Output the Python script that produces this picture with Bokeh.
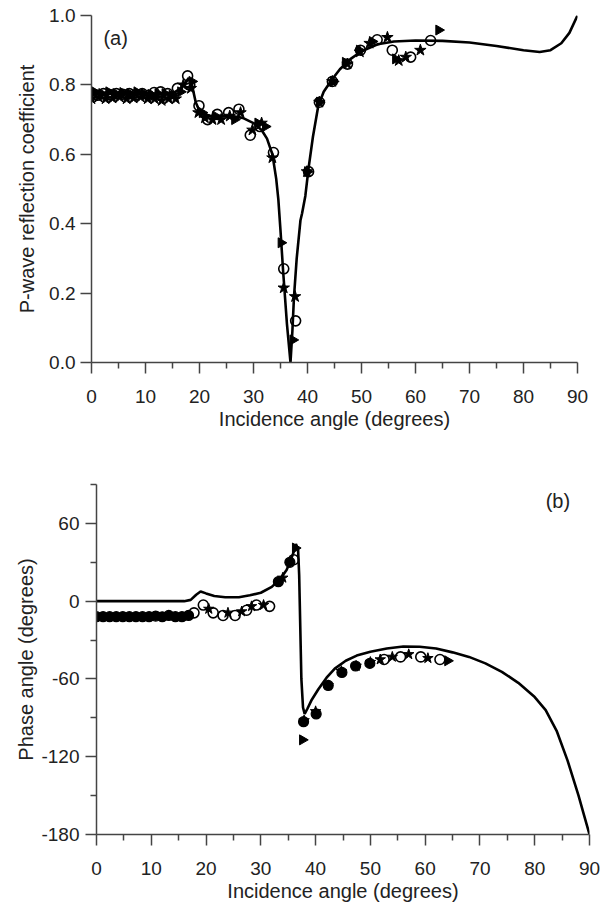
import math
from bokeh.plotting import figure
from bokeh.models import FixedTicker, Label, CustomJSTickFormatter
from bokeh.embed import file_html
from bokeh.resources import INLINE

FONT = "Liberation Sans"

# ---------------- panel (a) data ----------------
a_curve_x = [0, 5, 10, 14, 15.5, 16.5, 17.3, 18, 18.6, 19.3, 20, 21, 22, 24, 26, 28, 30, 31.5, 32.5,
             33.5, 34.2, 34.6, 35.0, 35.5, 36.2, 36.85, 37.2, 37.5, 38.0, 38.7, 39.0, 39.6, 40.2, 41,
             42, 43, 44.5, 46, 48, 50, 53, 56, 60, 65, 70, 75, 80, 83, 85, 87, 88.5, 90]
a_curve_y = [0.775, 0.775, 0.775, 0.775, 0.78, 0.79, 0.805, 0.82, 0.80, 0.75, 0.725, 0.715, 0.71, 0.71,
             0.71, 0.705, 0.69, 0.67, 0.645, 0.60, 0.53, 0.47, 0.38, 0.26, 0.11, 0.0, 0.09, 0.19, 0.30,
             0.41, 0.43, 0.48, 0.56, 0.65, 0.74, 0.78, 0.815, 0.845, 0.875, 0.897, 0.917, 0.925, 0.928,
             0.927, 0.922, 0.912, 0.900, 0.895, 0.90, 0.92, 0.95, 1.0]

a_circ_x = [0, 1.1, 2.2, 3.4, 4.6, 5.8, 7.0, 8.2, 9.4, 10.6, 11.6, 12.8, 14.1, 15.9, 17.8, 18.2, 19.9,
            21.5, 23.3, 25.4, 27.3, 29.4, 31.2, 33.7, 35.6, 37.8, 40.2, 42.2, 44.6, 47.4, 49.8, 52.9,
            55.7, 59.1, 62.8]
a_circ_y = [0.775, 0.77, 0.775, 0.772, 0.775, 0.773, 0.775, 0.772, 0.775, 0.77, 0.778, 0.78, 0.775,
            0.79, 0.826, 0.80, 0.74, 0.70, 0.715, 0.72, 0.73, 0.655, 0.68, 0.605, 0.27, 0.12, 0.55,
            0.75, 0.81, 0.86, 0.90, 0.93, 0.90, 0.88, 0.928]

a_star_x = [0, 1.3, 2.6, 3.9, 5.2, 6.5, 7.8, 9.1, 10.4, 11.7, 13.0, 14.3, 15.6, 17.0, 18.4, 19.8, 21.0,
            22.4, 24.0, 25.6, 27.6, 29.8, 31.5, 33.5, 35.6, 37.7, 39.9, 42.2, 44.6, 47.4, 49.7, 51.5,
            54.8, 56.9, 58.2, 60.9]
a_star_y = [0.76, 0.765, 0.76, 0.762, 0.765, 0.76, 0.762, 0.765, 0.76, 0.76, 0.755, 0.76, 0.76, 0.80,
            0.79, 0.72, 0.705, 0.70, 0.70, 0.71, 0.72, 0.67, 0.69, 0.59, 0.215, 0.19, 0.55, 0.75, 0.81,
            0.86, 0.895, 0.92, 0.937, 0.87, 0.88, 0.90]

a_tri_x = [0.6, 1.9, 3.2, 4.5, 5.8, 7.1, 8.4, 9.7, 11.0, 12.3, 13.6, 14.9, 16.5, 18.6, 20.5, 23.0, 26.5,
           30.8, 32.2, 35.1, 37.3, 40.0, 42.2, 44.8, 47.0, 49.6, 52.0, 56.3, 64.3]
a_tri_y = [0.78, 0.775, 0.78, 0.775, 0.778, 0.775, 0.78, 0.775, 0.772, 0.775, 0.775, 0.77, 0.78, 0.81,
           0.72, 0.71, 0.70, 0.69, 0.68, 0.345, 0.065, 0.55, 0.75, 0.81, 0.865, 0.90, 0.925, 0.875, 0.958]

a_xticks = [0, 10, 20, 30, 40, 50, 60, 70, 80, 90]
a_xminor = [5, 15, 25, 35, 45, 55, 65, 75, 85]
a_yticks = [0.0, 0.2, 0.4, 0.6, 0.8, 1.0]

# ---------------- panel (b) data ----------------
b_curve_x = [0, 10, 16, 17.2, 18.2, 19.0, 20.0, 21.5, 23.5, 26, 28, 30, 32, 33.5, 34.7, 35.5, 36.0,
             36.4, 36.8, 37.0, 37.2, 37.4, 37.7, 38.0, 38.5, 39.3, 40.5, 42, 43.5, 45.5, 47.5, 50, 53,
             56, 59, 62, 65, 68, 71, 74, 77, 80, 82, 84, 86, 88, 89, 90]
b_curve_y = [0, 0, 0, 1, 5, 7.5, 6, 4, 3, 3, 4.5, 6.5, 11, 17, 24, 32, 38, 44, 40, 20, -20, -60, -82,
             -87, -83, -76, -68, -59, -52, -46, -42, -39, -36.5, -35, -35.2, -36.5, -39.5, -43, -48,
             -54.5, -63, -74, -84, -100, -123, -150, -165, -180]

b_fill_x = [0, 1.2, 2.4, 3.6, 4.8, 6.0, 7.2, 8.4, 9.6, 10.8, 12.0, 13.2, 14.4, 15.6, 16.8, 33.2, 35.3,
            37.8, 40.1, 42.3, 44.8, 47.3, 49.9]
b_fill_y = [-12, -12, -12, -12, -12, -12, -12, -12, -12, -11.5, -12, -11, -12, -12, -11, 15, 30,
            -93, -87, -65, -55, -50, -48]

b_circ_x = [17.8, 19.5, 21.3, 23.1, 25.3, 27.4, 29.2, 31.6, 36.0, 52.5, 55.5, 59.2, 62.7]
b_circ_y = [-9, -3, -9, -11, -11, -7, -3, -4, 32, -45, -43, -43, -45]

b_star_x = [20.5, 24.0, 26.5, 28.3, 30.5, 34.0, 37.9, 40.0, 42.3, 44.7, 47.4, 50.0, 51.8, 54.0, 57.0, 60.5]
b_star_y = [-6, -9, -8, -4, -3, 18, -92, -85, -65, -54, -50, -47, -45, -43, -41, -44]

b_tri_x = [36.3, 37.6, 64.1]
b_tri_y = [41, -107, -46]

b_xticks = [0, 10, 20, 30, 40, 50, 60, 70, 80, 90]
b_xminor = [5, 15, 25, 35, 45, 55, 65, 75, 85]
b_yticks = [-180, -120, -60, 0, 60]
b_yminor = [-150, -90, -30, 30, 90]

AX = "#444444"
TXT = "#222222"


def style(p, xt, xm, yt, ym, xlab, ylab, y_lab_so, y_title_so, x_lab_so, x_title_so):
    p.outline_line_color = None
    p.grid.grid_line_color = None
    p.background_fill_color = "white"
    p.border_fill_color = "white"
    p.xaxis.ticker = FixedTicker(ticks=xt, minor_ticks=xm)
    p.yaxis.ticker = FixedTicker(ticks=yt, minor_ticks=ym)
    for ax in (p.xaxis[0], p.yaxis[0]):
        ax.axis_line_color = AX
        ax.axis_line_width = 1.5
        ax.major_tick_line_color = AX
        ax.major_tick_line_width = 1.5
        ax.minor_tick_line_color = AX
        ax.minor_tick_line_width = 1.5
        ax.major_tick_in = 0
        ax.minor_tick_in = 0
        ax.major_tick_out = 11
        ax.minor_tick_out = 6
        ax.major_label_text_font = FONT
        ax.major_label_text_font_size = "19px"
        ax.major_label_text_color = TXT
        ax.axis_label_text_font = FONT
        ax.axis_label_text_font_size = "20px"
        ax.axis_label_text_font_style = "normal"
        ax.axis_label_text_color = TXT
    p.xaxis.axis_label = xlab
    p.yaxis.axis_label = ylab
    p.xaxis.major_label_standoff = x_lab_so
    p.xaxis.axis_label_standoff = x_title_so
    p.yaxis.major_label_standoff = y_lab_so
    p.yaxis.axis_label_standoff = y_title_so
    p.xaxis.formatter = CustomJSTickFormatter(code="return String(tick);")


# ---------------- figure (a) ----------------
pa = figure(width=600, height=468, x_range=(0, 90), y_range=(0, 1.0),
            output_backend="svg", toolbar_location=None,
            min_border_left=91, min_border_right=23, min_border_top=15, min_border_bottom=106)
style(pa, a_xticks, a_xminor, a_yticks, [], "Incidence angle (degrees)",
      "P-wave reflection coefficient", 5, 8, 16, 2)
pa.yaxis.formatter = CustomJSTickFormatter(code="return tick.toFixed(1);")

pa.line(a_curve_x, a_curve_y, line_color="black", line_width=2.6)
pa.scatter(a_circ_x, a_circ_y, marker="circle", size=10, fill_color="white", fill_alpha=0.0,
           line_color="black", line_width=1.6)
pa.scatter(a_star_x, a_star_y, marker="star", size=12, fill_color="black", line_color="black",
           line_width=1)
pa.scatter(a_tri_x, a_tri_y, marker="triangle", size=10, angle=-math.pi / 2, fill_color="black",
           line_color="black", line_width=1)
pa.add_layout(Label(x=2.2, y=0.935, text="(a)", text_font=FONT, text_font_size="20px",
                    text_color=TXT, text_baseline="middle", text_align="left"))

# ---------------- figure (b) ----------------
pb = figure(width=600, height=437, x_range=(0, 90), y_range=(-180, 90),
            output_backend="svg", toolbar_location=None,
            min_border_left=96, min_border_right=11, min_border_top=16, min_border_bottom=71)
style(pb, b_xticks, b_xminor, b_yticks, b_yminor, "Incidence angle (degrees)",
      "Phase angle (degrees)", 6, 1, 16, 2)
pb.yaxis.formatter = CustomJSTickFormatter(code="return String(tick);")

pb.line(b_curve_x, b_curve_y, line_color="black", line_width=2.6)
pb.scatter(b_fill_x, b_fill_y, marker="circle", size=10, fill_color="black", line_color="black",
           line_width=1.2)
pb.scatter(b_circ_x, b_circ_y, marker="circle", size=10, fill_color="white", fill_alpha=0.0,
           line_color="black", line_width=1.6)
pb.scatter(b_star_x, b_star_y, marker="star", size=11, fill_color="black", line_color="black",
           line_width=1)
pb.scatter(b_tri_x, b_tri_y, marker="triangle", size=10, angle=-math.pi / 2, fill_color="black",
           line_color="black", line_width=1)
pb.add_layout(Label(x=82, y=77, text="(b)", text_font=FONT, text_font_size="20px",
                    text_color=TXT, text_baseline="middle", text_align="left"))

open("out.html", "w").write(file_html([pa, pb], INLINE))
